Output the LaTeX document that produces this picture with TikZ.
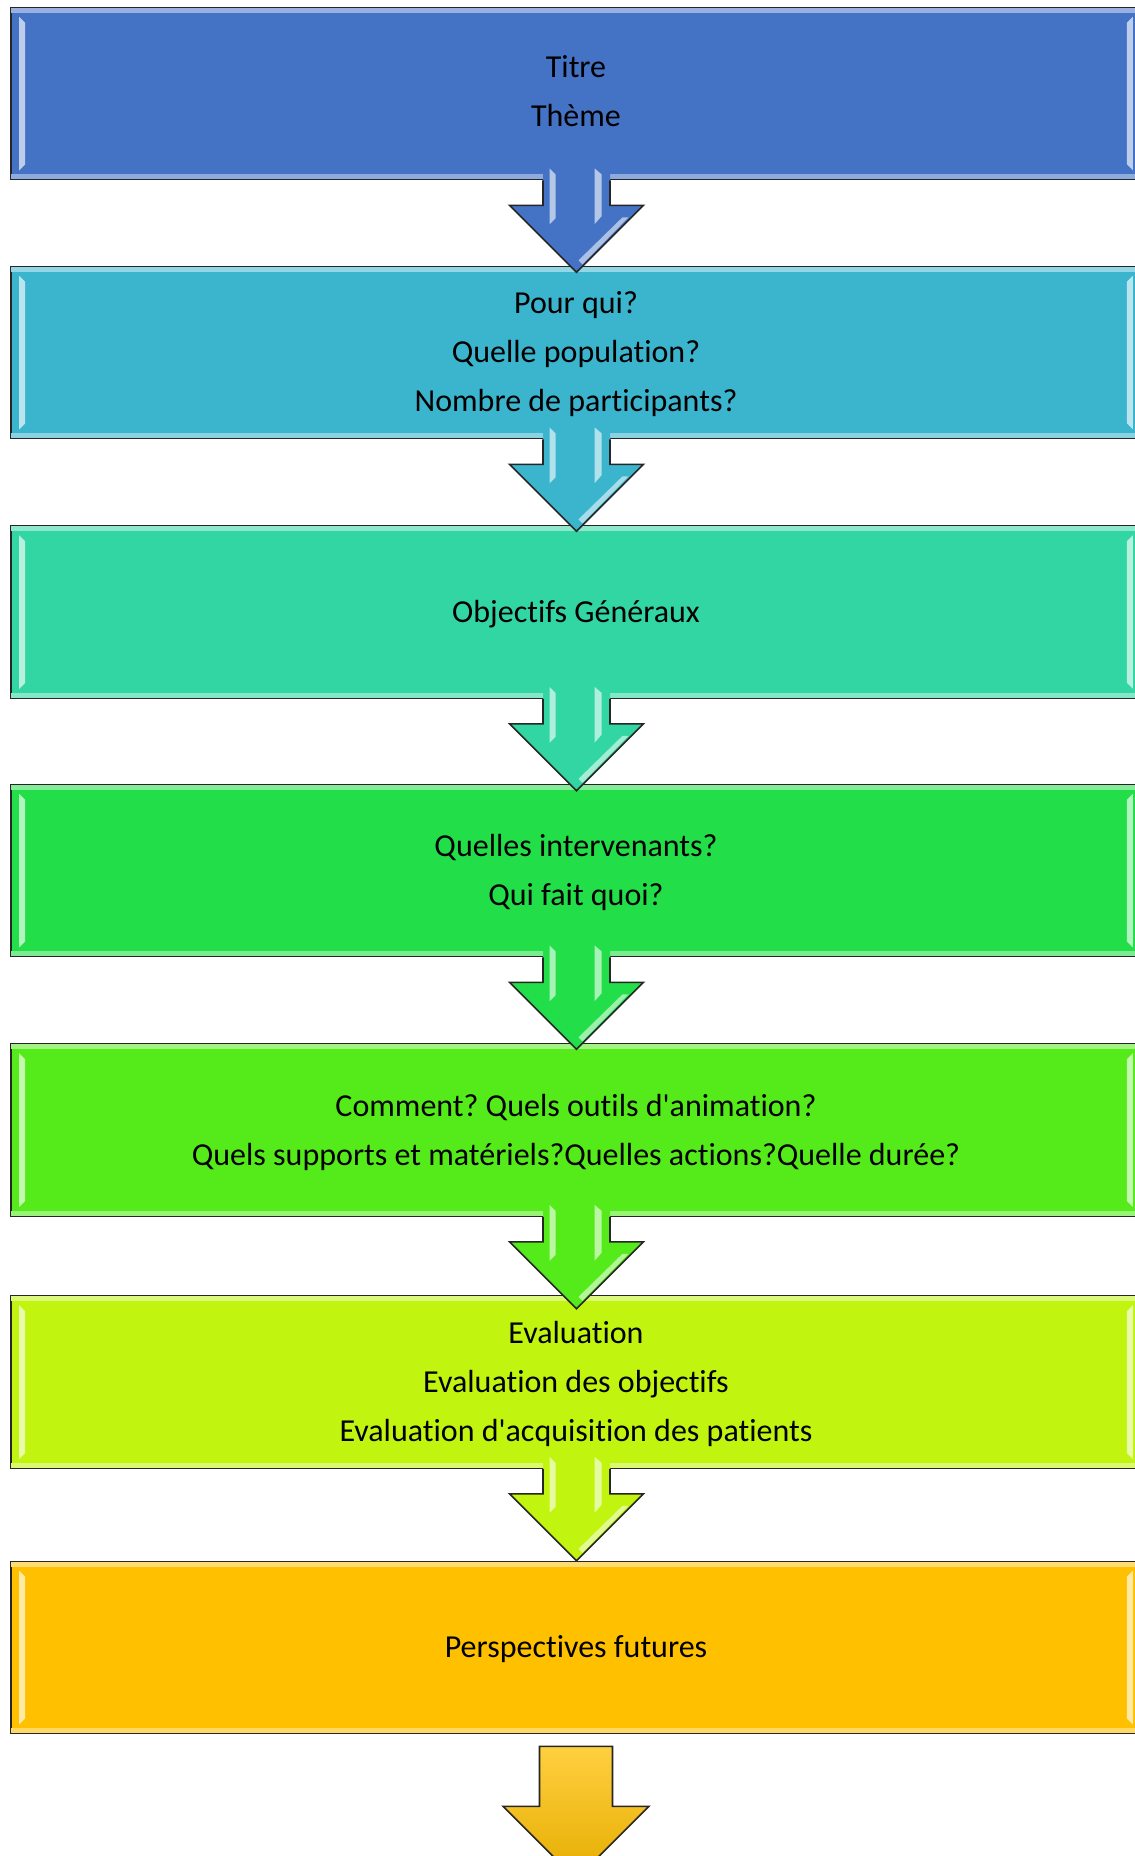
\documentclass[tikz,border=0pt]{standalone}
\usepackage{fontspec}
\setmainfont{Carlito}[Ligatures={NoCommon}]
\usetikzlibrary{calc}
\definecolor{cA}{RGB}{68,114,196}
\definecolor{cB}{RGB}{59,180,206}
\definecolor{cC}{RGB}{50,214,162}
\definecolor{cD}{RGB}{34,222,72}
\definecolor{cE}{RGB}{85,235,26}
\definecolor{cF}{RGB}{193,245,16}
\definecolor{cG}{RGB}{255,192,0}
\newcommand{\ap}{\textquotesingle}
\tikzset{
  stagebox/.style={draw=black!85, line width=1.6pt, fill=#1, minimum width=1130pt,
    minimum height=172pt, inner sep=0pt, align=center,
    font=\fontsize{32}{49}\selectfont\frenchspacing, text=black},
  outl/.style={draw=black!85, line width=1.6pt, line join=miter},
}
% bevel highlights on a box
\newcommand{\boxglow}[2]{%
  \fill[#2!55!white] ([xshift=1pt,yshift=-1pt]#1.north west) rectangle ([xshift=-1pt,yshift=-6pt]#1.north east);
  \fill[#2!60!white] ([xshift=1pt,yshift=1pt]#1.south west) rectangle ([xshift=-1pt,yshift=6pt]#1.south east);
  \fill[#2!35!white] ([xshift=9pt,yshift=-10pt]#1.north west) -- ([xshift=15pt,yshift=-16pt]#1.north west)
     -- ([xshift=15pt,yshift=16pt]#1.south west) -- ([xshift=9pt,yshift=10pt]#1.south west) -- cycle;
  \fill[#2!35!white] ([xshift=-9pt,yshift=-10pt]#1.north east) -- ([xshift=-15pt,yshift=-16pt]#1.north east)
     -- ([xshift=-15pt,yshift=16pt]#1.south east) -- ([xshift=-9pt,yshift=10pt]#1.south east) -- cycle;
}
% arrow below a box (y grows downward)
\newcommand{\flowarrow}[2]{%
  \coordinate (#1-c) at ($(#1.south)+(0.5,0)$);
  \fill[#2] ($(#1-c)+(-33.5,-14)$) -- ($(#1-c)+(33.5,-14)$) -- ($(#1-c)+(33.5,25)$) -- ($(#1-c)+(67,25)$)
     -- ($(#1-c)+(0,92)$) -- ($(#1-c)+(-67,25)$) -- ($(#1-c)+(-33.5,25)$) -- cycle;
  \fill[#2!40!white] ($(#1-c)+(-27,-12)$) -- ($(#1-c)+(-21,-6)$) -- ($(#1-c)+(-21,38)$) -- ($(#1-c)+(-27,44)$) -- cycle;
  \fill[#2!40!white] ($(#1-c)+(18,-12)$) -- ($(#1-c)+(25,-6)$) -- ($(#1-c)+(25,36)$) -- ($(#1-c)+(18,44)$) -- cycle;
  \fill[#2!45!white] ($(#1-c)+(46,37)$) -- ($(#1-c)+(52,37)$) -- ($(#1-c)+(6,84)$) -- ($(#1-c)+(2,80)$) -- cycle;
  \draw[outl] ($(#1-c)+(-33.5,0)$) -- ($(#1-c)+(-33.5,25)$) -- ($(#1-c)+(-67,25)$)
     -- ($(#1-c)+(0,92)$) -- ($(#1-c)+(67,25)$) -- ($(#1-c)+(33.5,25)$) -- ($(#1-c)+(33.5,0)$);
}
\begin{document}
\begin{tikzpicture}[x=1pt,y=-1pt]
\useasboundingbox (0,0) rectangle (1135,1856);
\begin{scope}
\clip (0,0) rectangle (1135,1856);
\node[stagebox=cA] (b1) at (576,93.5) {};
\node[stagebox=cB] (b2) at (576,352.5) {};
\node[stagebox=cC] (b3) at (576,612) {};
\node[stagebox=cD] (b4) at (576,870.5) {};
\node[stagebox=cE] (b5) at (576,1130) {};
\node[stagebox=cF] (b6) at (576,1382) {};
\node[stagebox=cG] (b7) at (576,1647.5) {};
\boxglow{b1}{cA}\boxglow{b2}{cB}\boxglow{b3}{cC}\boxglow{b4}{cD}
\boxglow{b5}{cE}\boxglow{b6}{cF}\boxglow{b7}{cG}
\node[stagebox=cA, draw=none, fill=none] (t1) at ($(b1)+(0,-2)$) {Titre\\Thème};
\node[stagebox=cB, draw=none, fill=none] (t2) at ($(b2)+(0,2)$) {Pour qui?\\Quelle population?\\Nombre de participants?};
\node[stagebox=cC, draw=none, fill=none] (t3) at ($(b3)+(0,2)$) {Objectifs Généraux};
\node[stagebox=cD, draw=none, fill=none] (t4) at ($(b4)+(0,2)$) {Quelles intervenants?\\Qui fait quoi?};
\node[stagebox=cE, draw=none, fill=none] (t5) at ($(b5)+(0,2)$) {Comment? Quels outils d\ap animation?\\Quels supports et matériels?Quelles actions?Quelle durée?};
\node[stagebox=cF, draw=none, fill=none] (t6) at ($(b6)+(0,2)$) {Evaluation\\Evaluation des objectifs\\Evaluation d\ap acquisition des patients};
\node[stagebox=cG, draw=none, fill=none] (t7) at ($(b7)+(0,2)$) {Perspectives futures};
\flowarrow{b1}{cA}
\flowarrow{b2}{cB}
\flowarrow{b3}{cC}
\flowarrow{b4}{cD}
\flowarrow{b5}{cE}
\flowarrow{b6}{cF}
% final arrow
\coordinate (fa) at ($(b7.south)+(0,12)$);
\shade[top color=cG!75!white, bottom color=cG!90!black, outl]
  ($(fa)+(-36.5,0)$) -- ($(fa)+(36.5,0)$) -- ($(fa)+(36.5,60)$) -- ($(fa)+(73,60)$)
  -- ($(fa)+(0,133)$) -- ($(fa)+(-73,60)$) -- ($(fa)+(-36.5,60)$) -- cycle;
\end{scope}
\end{tikzpicture}
\end{document}
